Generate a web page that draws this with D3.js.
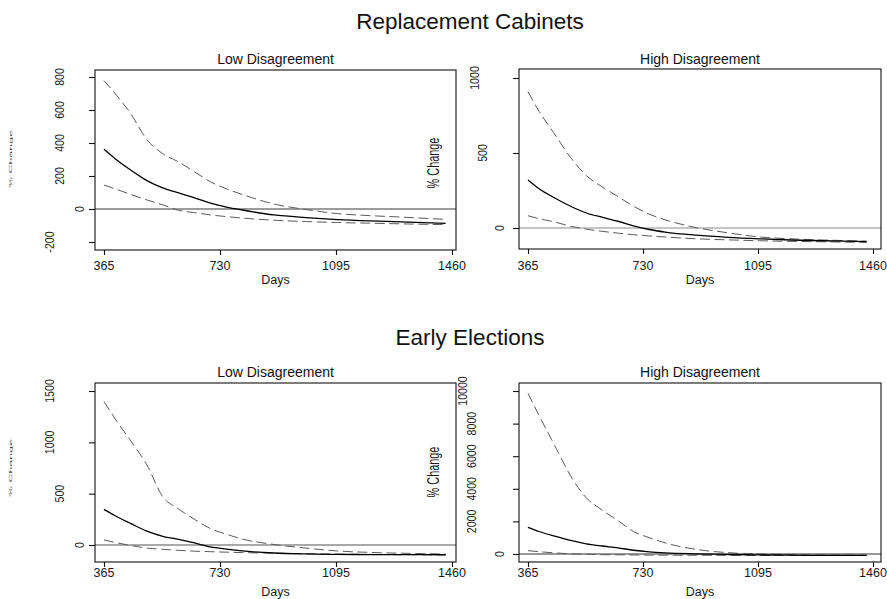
<!DOCTYPE html>
<html>
<head>
<meta charset="utf-8">
<script src="https://cdn.jsdelivr.net/npm/d3@7"></script>
<style>
  html, body { margin: 0; padding: 0; background: #fff; overflow: hidden; }
  svg { display: block; font-family: "Liberation Sans", Arial, sans-serif; }
</style>
</head>
<body>
<script>
// Days since cabinet formation at which each simulated effect is evaluated
const days = [365, 400, 450, 500, 550, 600, 650, 700, 750, 800, 900, 1000, 1100, 1200, 1300, 1440];
const xTicks = [365, 730, 1095, 1460];

// Replacement cabinets, low disagreement: estimate and 95% bounds (% change)
const rcLowEst   = [362, 305, 235, 172, 128, 97, 68, 35, 12, -6, -36, -52, -64, -72, -78, -87];
const rcLowUpper = [778, 700, 575, 420, 335, 285, 225, 165, 122, 88, 30, -3, -28, -40, -49, -63];
const rcLowLower = [145, 122, 88, 55, 25, -8, -22, -36, -46, -55, -68, -76, -82, -86, -90, -95];
const rcLowTicks = [-200, 0, 200, 400, 600, 800];

// Replacement cabinets, high disagreement
const rcHighEst   = [320, 262, 200, 145, 100, 72, 45, 14, -10, -27, -48, -62, -72, -80, -85, -91];
const rcHighUpper = [909, 778, 625, 470, 350, 275, 210, 145, 92, 55, 2, -32, -60, -72, -80, -87];
const rcHighLower = [82, 62, 40, 12, -8, -22, -34, -45, -53, -60, -72, -79, -85, -89, -92, -96];
const rcHighTicks = [0, 500, 1000];

// Early elections, low disagreement
const eeLowEst   = [347, 285, 208, 135, 85, 55, 20, -18, -40, -58, -78, -87, -92, -93, -94, -95];
const eeLowUpper = [1396, 1230, 1010, 780, 470, 350, 250, 160, 105, 58, 5, -30, -58, -72, -80, -88];
const eeLowLower = [49, 25, -5, -30, -42, -52, -60, -65, -70, -74, -80, -85, -89, -92, -94, -97];
const eeLowTicks = [0, 500, 1000, 1500];

// Early elections, high disagreement
const eeHighEst   = [1640, 1380, 1090, 830, 620, 490, 380, 230, 130, 70, 10, -30, -60, -75, -85, -90];
const eeHighUpper = [9860, 8500, 6650, 4800, 3450, 2700, 2050, 1380, 1000, 680, 280, 80, 10, -30, -55, -70];
const eeHighLower = [205, 140, 70, 10, -20, -40, -52, -60, -66, -72, -79, -84, -88, -91, -93, -95];
const eeHighTicks = [0, 2000, 4000, 6000, 8000, 10000];

const sectionTitles = ["Replacement Cabinets", "Early Elections"];
const panelTitles = ["Low Disagreement", "High Disagreement"];
const xTitle = "Days";
const yTitle = "% Change";

const W = 887, H = 599;
const svg = d3.select("body").append("svg").attr("width", W).attr("height", H);
svg.append("rect").attr("width", W).attr("height", H).attr("fill", "#fff");

// Panel geometry
const panels = [
  { est: rcLowEst, up: rcLowUpper, lo: rcLowLower, ticks: rcLowTicks, title: panelTitles[0],
    left: 95, right: 456, top: 70, bottom: 250, xr: [104, 452], yDom: [-248.5, 842.4],
    labOff: 15.7, labStep: 10, zeroCol: "#3a3a3a", titleY: 64, tickY: 270, daysY: 284 },
  { est: rcHighEst, up: rcHighUpper, lo: rcHighLower, ticks: rcHighTicks, title: panelTitles[1],
    left: 519, right: 881, top: 69, bottom: 249, xr: [528, 873], yDom: [-140, 1060],
    labOff: 19.5, labStep: 8.5, zeroCol: "#8a8a8a", titleY: 64, tickY: 270, daysY: 284 },
  { est: eeLowEst, up: eeLowUpper, lo: eeLowLower, ticks: eeLowTicks, title: panelTitles[0],
    left: 95, right: 456, top: 383, bottom: 562, xr: [104, 452], yDom: [-165.6, 1578],
    labOff: 15.7, labStep: 10, zeroCol: "#555", titleY: 377, tickY: 577, daysY: 596 },
  { est: eeHighEst, up: eeHighUpper, lo: eeHighLower, ticks: eeHighTicks, title: panelTitles[1],
    left: 519, right: 881, top: 383, bottom: 562, xr: [528, 873], yDom: [-491, 10491],
    labOff: 19.5, labStep: 9.2, zeroCol: "#333", titleY: 377, tickY: 577, daysY: 596 }
];

panels.forEach(p => {
  const g = svg.append("g");
  const x = d3.scaleLinear().domain([365, 1460]).range(p.xr);
  const y = d3.scaleLinear().domain(p.yDom).range([p.bottom, p.top]);

  // zero reference line
  g.append("line")
    .attr("x1", p.left).attr("x2", p.right)
    .attr("y1", y(0)).attr("y2", y(0))
    .attr("stroke", p.zeroCol).attr("stroke-width", 1.1);

  const line = d3.line().x((d, i) => x(days[i])).y(d => y(d)).curve(d3.curveMonotoneX);

  // confidence bounds
  [p.up, p.lo].forEach(s => {
    g.append("path").datum(s).attr("d", line)
      .attr("fill", "none").attr("stroke", "#5a5a5a").attr("stroke-width", 1)
      .attr("stroke-dasharray", "10,4.5");
  });
  // point estimate
  g.append("path").datum(p.est).attr("d", line)
    .attr("fill", "none").attr("stroke", "#000").attr("stroke-width", 1.3);

  // plot frame
  g.append("rect")
    .attr("x", p.left).attr("y", p.top)
    .attr("width", p.right - p.left).attr("height", p.bottom - p.top)
    .attr("fill", "none").attr("stroke", "#111").attr("stroke-width", 1.1);

  // x axis ticks
  const xa = g.append("g").attr("transform", `translate(0,${p.bottom})`)
    .call(d3.axisBottom(x).tickValues(xTicks).tickSize(5).tickFormat(""));
  xa.select(".domain").remove();
  xa.selectAll("line").attr("stroke", "#111").attr("stroke-width", 1.1);

  g.selectAll(".xlab").data(xTicks).enter().append("text")
    .attr("x", d => x(d)).attr("y", p.tickY)
    .attr("text-anchor", "middle").attr("font-size", 12.5).attr("fill", "#1a1a1a")
    .text(d => d);

  g.append("text").attr("x", (p.left + p.right) / 2).attr("y", p.daysY)
    .attr("text-anchor", "middle").attr("font-size", 12.5).attr("fill", "#1a1a1a")
    .text(xTitle);

  // y axis ticks
  const ya = g.append("g").attr("transform", `translate(${p.left},0)`)
    .call(d3.axisLeft(y).tickValues(p.ticks).tickSize(6).tickFormat(""));
  ya.select(".domain").remove();
  ya.selectAll("line").attr("stroke", "#111").attr("stroke-width", 1.1);

  // rotated y tick labels
  g.selectAll(".ylab").data(p.ticks).enter().append("text")
    .attr("transform", d => {
      const n = String(d).length;
      const cx = p.left - p.labOff - (n - 1) * p.labStep;
      return `translate(${cx},${y(d)}) rotate(-90) scale(0.85,1)`;
    })
    .attr("dy", "0.36em")
    .attr("text-anchor", "middle").attr("font-size", 12.5).attr("fill", "#1a1a1a")
    .text(d => d);

  // panel title
  g.append("text").attr("x", (p.left + p.right) / 2).attr("y", p.titleY)
    .attr("text-anchor", "middle").attr("font-size", 14).attr("fill", "#111")
    .text(p.title);
});

// y axis titles
[163, 472].forEach(cy => {
  svg.append("text")
    .attr("transform", `translate(433,${cy}) rotate(-90) scale(0.68,1)`)
    .attr("dy", "0.36em")
    .attr("text-anchor", "middle").attr("font-size", 16).attr("fill", "#1a1a1a")
    .text(yTitle);
  svg.append("text")
    .attr("transform", `translate(11.5,${cy - 4}) rotate(-90) scale(0.78,0.16)`)
    .attr("dy", "0.36em")
    .attr("text-anchor", "middle").attr("font-size", 16).attr("fill", "#333")
    .text(yTitle);
});

// section titles
[29, 345].forEach((by, i) => {
  svg.append("text").attr("x", 470).attr("y", by)
    .attr("text-anchor", "middle").attr("font-size", 22.5).attr("fill", "#111")
    .text(sectionTitles[i]);
});
</script>
</body>
</html>
